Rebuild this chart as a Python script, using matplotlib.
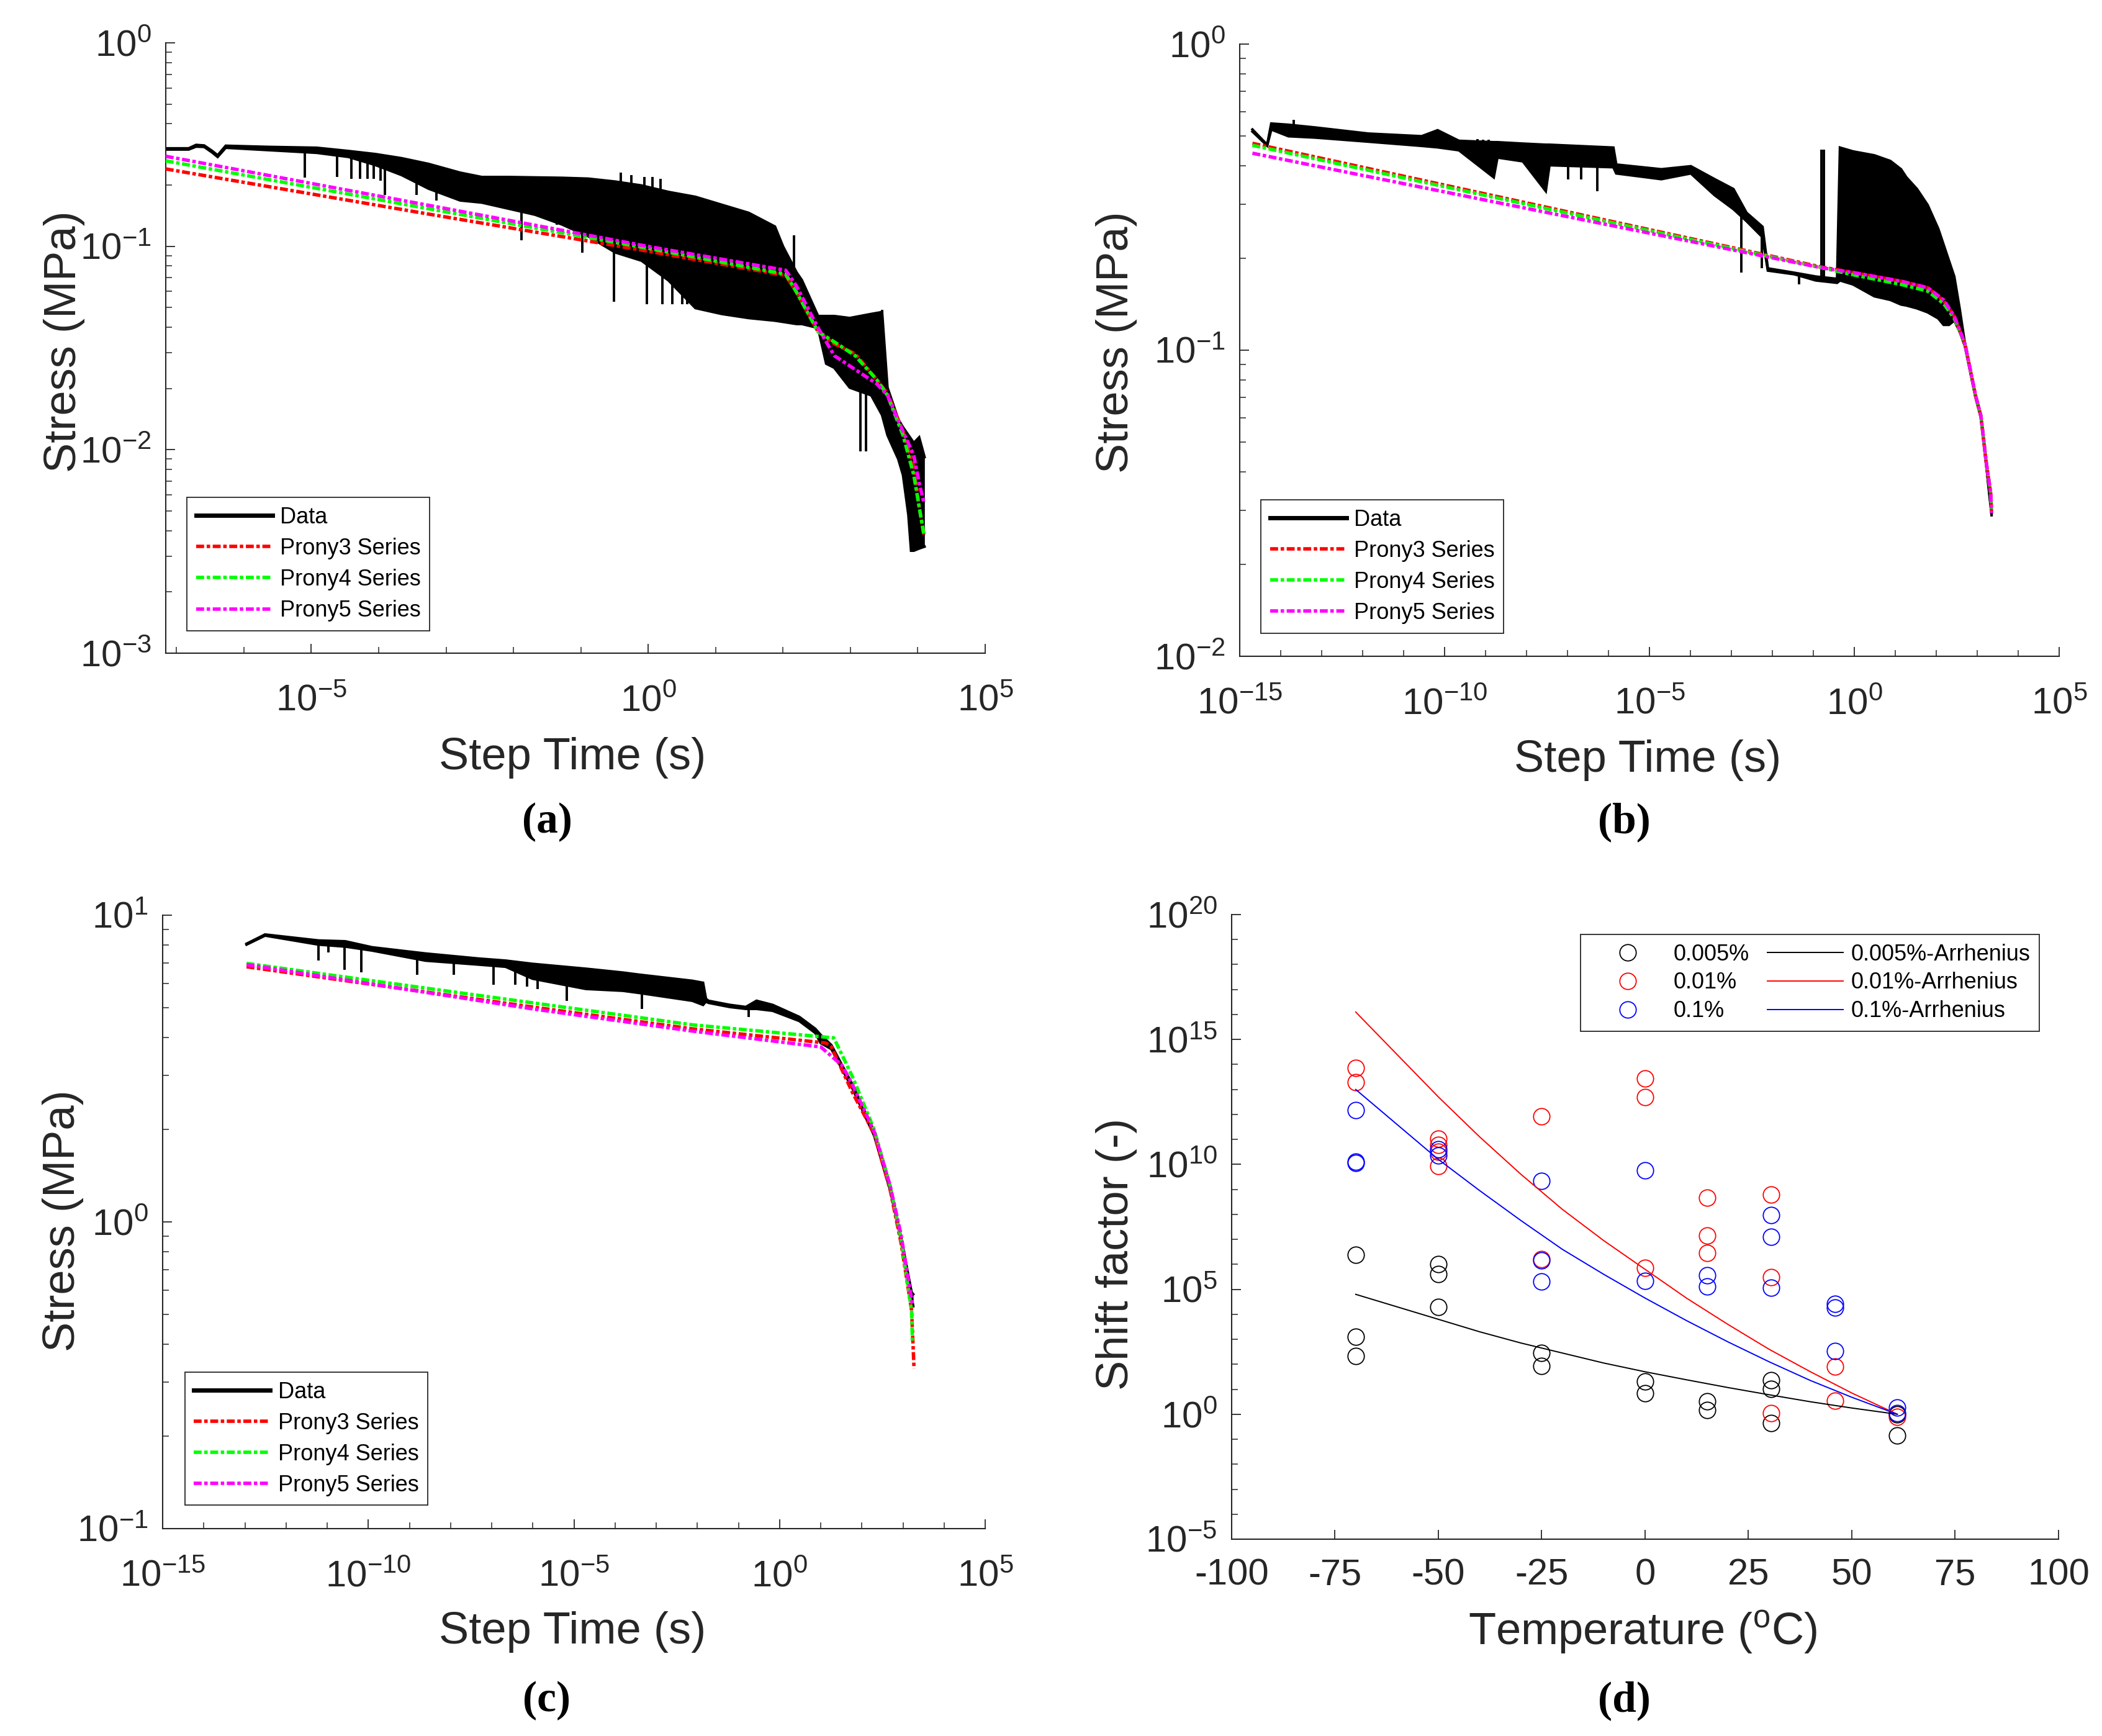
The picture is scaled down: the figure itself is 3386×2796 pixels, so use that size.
import numpy as np
import matplotlib
matplotlib.use('Agg')
import matplotlib.pyplot as plt
from matplotlib.ticker import LogLocator, NullFormatter, FixedLocator, LogFormatterSciNotation
from matplotlib.lines import Line2D

plt.rcParams['font.family'] = ['Liberation Sans', 'DejaVu Sans']
plt.rcParams['mathtext.fontset'] = 'custom'
plt.rcParams['mathtext.rm'] = 'Liberation Sans'
plt.rcParams['mathtext.it'] = 'Liberation Sans:italic'
plt.rcParams['mathtext.bf'] = 'Liberation Sans:bold'
plt.rcParams['mathtext.default'] = 'regular'
plt.rcParams['axes.unicode_minus'] = False

# ---------------- Panel (a) data: log10(step time [s]), stress [MPa] ----------------
a_band_logt = [-7.16, -6.82, -6.71, -6.59, -6.47, -6.39, -6.27, -5.64, -4.92, -4.45, -4.05, -3.66,
               -3.26, -2.79, -2.47, -2.07, -1.68, -1.28, -0.89, -0.49, -0.10, 0.30, 0.70, 1.09,
               1.49, 1.88, 2.00, 2.20, 2.28, 2.52, 2.64, 2.76, 2.99, 3.31, 3.47, 3.55, 3.63, 3.71,
               3.78, 3.86, 3.90, 3.94, 4.02, 4.10]
a_upper = [0.303, 0.303, 0.315, 0.313, 0.294, 0.280, 0.312, 0.308, 0.305, 0.294, 0.284, 0.271,
           0.254, 0.230, 0.219, 0.219, 0.218, 0.217, 0.215, 0.208, 0.199, 0.185, 0.175, 0.160,
           0.146, 0.125, 0.0998, 0.0745, 0.0681, 0.0454, 0.0454, 0.0454, 0.0444, 0.0465, 0.0475,
           0.0202, 0.0169, 0.0141, 0.0129, 0.0118, 0.0113, 0.0108, 0.0115, 0.0092]
a_lower = [0.299, 0.299, 0.309, 0.308, 0.289, 0.275, 0.305, 0.297, 0.288, 0.275, 0.251, 0.224,
           0.192, 0.168, 0.164, 0.153, 0.143, 0.128, 0.112, 0.0933, 0.085, 0.068, 0.0497, 0.0465,
           0.0444, 0.0431, 0.0425, 0.0415, 0.0415, 0.0397, 0.0265, 0.0253, 0.0202, 0.0185, 0.0148,
           0.0118, 0.0103, 0.0090, 0.00752, 0.00479, 0.00319, 0.00319, 0.00327, 0.00334]
a_spike_logt = [-5.10, -4.62, -4.41, -4.28, -4.17, -4.07, -3.97, -3.91, -3.44, -3.14, -1.88, -1.36,
                -1.24, -0.98, -0.51, -0.02, 0.21, 0.36, 0.50, 0.58, 3.15, 3.23, -0.41, -0.25,
                -0.06, 0.06, 0.18, 2.16, 3.47]
a_spike_end = [0.218, 0.219, 0.215, 0.215, 0.215, 0.215, 0.210, 0.179, 0.179, 0.168, 0.107, 0.128,
               0.128, 0.0933, 0.0532, 0.052, 0.052, 0.052, 0.052, 0.052, 0.00984, 0.00984, 0.230,
               0.224, 0.219, 0.219, 0.215, 0.113, 0.0486]
a_fit_logt = [-7.16, -3.26, 0.0, 2.04, 2.20, 2.52, 2.76, 3.07, 3.39, 3.55, 3.78, 3.94, 4.02, 4.09]
a_prony3 = [0.240, 0.144, 0.0946, 0.0719, 0.0595, 0.0380, 0.0332, 0.0296, 0.0221, 0.0189, 0.0123,
            0.00822, 0.00524, 0.00383]
a_prony4 = [0.263, 0.153, 0.0977, 0.0729, 0.0595, 0.0380, 0.0339, 0.0290, 0.0221, 0.0185, 0.0118,
            0.00752, 0.00524, 0.00383]
a_prony5 = [0.277, 0.159, 0.0998, 0.0762, 0.0637, 0.0397, 0.0290, 0.0248, 0.0211, 0.0185, 0.0123,
            0.0094, 0.00687, 0.00548]

# ---------------- Panel (b) data ----------------
b_band_logt = [-14.69, -14.33, -14.23, -13.81, -13.16, -11.86, -10.56, -10.17, -9.65, -8.80, -8.71,
               -8.09, -7.53, -7.44, -5.88, -5.81, -4.71, -3.99, -3.41, -2.95, -2.63, -2.24, -2.11,
               -1.46, -0.94, -0.42, -0.35, -0.03, 0.49, 0.88, 1.14, 1.27, 1.53, 1.79, 2.05, 2.18,
               2.31, 2.44, 2.57, 2.70, 2.96, 3.09, 3.22, 3.35]
b_upper = [0.526, 0.469, 0.550, 0.545, 0.534, 0.510, 0.500, 0.523, 0.483, 0.478, 0.478, 0.473,
           0.469, 0.469, 0.459, 0.404, 0.390, 0.399, 0.362, 0.336, 0.281, 0.253, 0.185, 0.179,
           0.174, 0.171, 0.459, 0.446, 0.433, 0.415, 0.390, 0.367, 0.336, 0.298, 0.249, 0.221,
           0.196, 0.174, 0.137, 0.105, 0.0709, 0.0611, 0.0427, 0.0294]
b_lower = [0.518, 0.466, 0.526, 0.500, 0.495, 0.480, 0.465, 0.460, 0.450, 0.367, 0.426, 0.414,
           0.331, 0.402, 0.396, 0.378, 0.362, 0.378, 0.321, 0.289, 0.264, 0.234, 0.182, 0.177,
           0.169, 0.166, 0.169, 0.164, 0.150, 0.146, 0.141, 0.140, 0.137, 0.133, 0.127, 0.121,
           0.121, 0.125, 0.115, 0.103, 0.0699, 0.0601, 0.0420, 0.0289]
b_spike_logt = [-2.76, -2.26, -1.35, -6.98, -6.66, -6.27, -0.81, -0.74, -0.31, -9.19, -9.06, -8.93,
                -13.68]
b_spike_end = [0.179, 0.185, 0.164, 0.362, 0.362, 0.331, 0.453, 0.453, 0.459, 0.490, 0.487, 0.487,
               0.566]
b_fit_logt = [-14.69, -0.81, 0.0, 1.14, 1.79, 2.18, 2.44, 2.70, 2.96, 3.09, 3.22, 3.33, 3.35]
b_prony3 = [0.474, 0.187, 0.179, 0.168, 0.160, 0.145, 0.129, 0.105, 0.071, 0.061, 0.043, 0.034, 0.0294]
b_prony4 = [0.467, 0.186, 0.176, 0.164, 0.156, 0.142, 0.127, 0.105, 0.071, 0.061, 0.043, 0.034, 0.0294]
b_prony5 = [0.440, 0.186, 0.179, 0.168, 0.160, 0.146, 0.129, 0.105, 0.071, 0.061, 0.043, 0.034, 0.0294]

# ---------------- Panel (c) data ----------------
c_band_logt = [-12.96, -12.51, -11.21, -10.56, -9.91, -8.61, -7.31, -6.66, -6.01, -4.71, -3.81,
               -3.42, -2.12, -1.86, -1.79, -1.73, -1.21, -0.82, -0.56, -0.17, 0.48, 0.87, 1.00,
               1.26, 1.78, 2.30, 2.69, 2.95, 3.21, 3.25]
c_upper = [8.07, 8.65, 8.27, 8.22, 7.86, 7.50, 7.22, 7.11, 6.94, 6.69, 6.50, 6.40, 6.11, 6.02, 5.34,
           5.26, 5.10, 5.02, 5.26, 5.10, 4.66, 4.26, 4.07, 3.77, 2.79, 1.97, 1.31, 0.90, 0.590, 0.581]
c_lower = [8.02, 8.58, 8.02, 7.90, 7.67, 7.11, 6.90, 6.79, 6.21, 5.75, 5.67, 5.58, 5.26, 5.10, 5.23,
           5.18, 5.02, 4.95, 4.95, 4.88, 4.52, 4.13, 3.83, 3.66, 2.71, 1.91, 1.27, 0.873, 0.572, 0.531]
c_spike_logt = [-11.21, -10.97, -10.58, -10.17, -8.81, -7.92, -6.95, -6.43, -6.14, -5.88, -5.17,
                -3.35, -0.75]
c_spike_end = [7.11, 7.55, 6.65, 6.50, 6.40, 6.40, 5.93, 5.93, 5.84, 5.75, 5.26, 4.95, 4.66]
c_prony3_logt = [-12.96, -6.01, -2.12, 1.13, 1.26, 1.78, 2.30, 2.69, 2.95, 3.21, 3.27]
c_prony3 = [6.79, 5.02, 4.26, 3.83, 3.72, 2.63, 1.94, 1.27, 0.86, 0.515, 0.332]
c_prony4_logt = [-12.96, -6.01, -2.12, 1.32, 1.78, 2.30, 2.69, 2.95, 3.21, 3.23]
c_prony4 = [6.96, 5.18, 4.39, 3.98, 2.96, 2.00, 1.31, 0.887, 0.515, 0.41]
c_prony5_logt = [-12.96, -6.01, -2.12, 1.00, 1.52, 1.78, 2.30, 2.69, 2.95, 3.23]
c_prony5 = [6.90, 4.95, 4.19, 3.72, 3.24, 2.79, 1.97, 1.31, 0.914, 0.539]

# ---------------- Panel (d) data: temperature [C], log10(shift factor) ----------------
d_T_005 = [-70, -70, -70, -50, -50, -50, -25, -25, 0, 0, 15, 15, 30.5, 30.5, 30.5, 61, 61]
d_log_005 = [6.37, 3.10, 2.32, 6.00, 5.61, 4.29, 2.45, 1.94, 1.30, 0.83, 0.52, 0.16, 1.35, 1.02,
             -0.36, 0.0, -0.84]
d_T_001 = [-70, -70, -50, -50, -50, -50, -25, -25, 0, 0, 0, 15, 15, 15, 30.5, 30.5, 30.5, 46, 46, 61]
d_log_001 = [13.87, 13.29, 11.04, 10.78, 10.50, 9.94, 11.93, 6.21, 13.45, 12.69, 5.85, 8.67, 7.15,
             6.45, 8.80, 5.48, 0.05, 1.91, 0.53, -0.11]
d_T_01 = [-70, -70, -70, -50, -50, -25, -25, -25, 0, 0, 15, 15, 30.5, 30.5, 30.5, 46, 46, 46, 61, 61]
d_log_01 = [12.16, 10.10, 10.05, 10.60, 10.35, 9.34, 6.16, 5.32, 9.76, 5.35, 5.56, 5.11, 7.97, 7.10,
            5.07, 4.42, 4.26, 2.53, 0.26, 0.05]
d_T_fit = [-70, -60, -50, -40, -30, -20, -10, 0, 10, 20, 30, 40, 50, 61]
d_fit_005 = [4.80, 4.30, 3.80, 3.30, 2.85, 2.45, 2.05, 1.70, 1.38, 1.07, 0.78, 0.50, 0.25, 0.0]
d_fit_001 = [16.1, 14.4, 12.7, 11.1, 9.6, 8.2, 6.95, 5.8, 4.65, 3.6, 2.6, 1.7, 0.85, 0.0]
d_fit_01 = [13.0, 11.6, 10.2, 8.95, 7.75, 6.6, 5.6, 4.65, 3.75, 2.9, 2.1, 1.35, 0.68, 0.0]

prony_labels = ['Data', 'Prony3 Series', 'Prony4 Series', 'Prony5 Series']
d_labels = ['0.005%', '0.01%', '0.1%', '0.005%-Arrhenius', '0.01%-Arrhenius', '0.1%-Arrhenius']

# ---------------- styling ----------------
W, H = 3387, 2796
AXC = '#262626'
TICK_FS = 43
LABEL_FS = 52
LEG_FS = 26
DASHDOT = (0, (2.3, 0.75, 1.0, 0.75))
FIT_LW = 4.0

fig = plt.figure(figsize=(W / 100, H / 100), dpi=100)
fig.patch.set_facecolor('white')


def px_axes(left, top, right, bottom):
    return fig.add_axes([left / W, 1 - bottom / H, (right - left) / W, (bottom - top) / H])


def style(ax, xpad=36, ypad=17):
    for s in ['top', 'right']:
        ax.spines[s].set_visible(False)
    for s in ['left', 'bottom']:
        ax.spines[s].set_color(AXC)
        ax.spines[s].set_linewidth(1.5)
    ax.tick_params(which='both', direction='in', colors=AXC, labelsize=TICK_FS)
    ax.tick_params(which='major', length=11, width=1.3)
    ax.tick_params(which='minor', length=7, width=1.1)
    ax.tick_params(axis='x', which='both', pad=xpad)
    ax.tick_params(axis='y', which='both', pad=ypad)
    ax.set_facecolor('white')


def labels(ax, xl, yl, xpos, ypos):
    ax.set_xlabel(xl, fontsize=LABEL_FS, color=AXC)
    ax.set_ylabel(yl, fontsize=LABEL_FS, color=AXC)
    ax.xaxis.set_label_coords(*xpos)
    ax.yaxis.set_label_coords(*ypos)
    ax.xaxis.label.set_va('center')
    ax.xaxis.label.set_ha('center')
    ax.yaxis.label.set_va('center')
    ax.yaxis.label.set_ha('center')


def draw_data(ax, logt, upper, lower, sp_logt, sp_end):
    lt = np.asarray(logt)
    t = 10.0 ** lt
    up = np.asarray(upper)
    lo = np.asarray(lower)
    ax.fill_between(t, lo, up, color='k', lw=0, zorder=2)
    ax.plot(t, up, color='k', lw=3.0, zorder=2, solid_joinstyle='miter')
    ax.plot(t, lo, color='k', lw=3.0, zorder=2, solid_joinstyle='miter')
    sl = np.asarray(sp_logt)
    base = np.sqrt(np.interp(sl, lt, up) * np.interp(sl, lt, lo))
    ax.vlines(10.0 ** sl, np.asarray(sp_end), base, color='k', lw=2.8, zorder=2)


def draw_fits(ax, l3, v3, l4, v4, l5, v5):
    r, = ax.plot(10.0 ** np.asarray(l3), v3, color=(1, 0, 0), lw=FIT_LW, ls=DASHDOT, zorder=3)
    g, = ax.plot(10.0 ** np.asarray(l4), v4, color=(0, 1, 0), lw=FIT_LW, ls=DASHDOT, zorder=4)
    m, = ax.plot(10.0 ** np.asarray(l5), v5, color=(1, 0, 1), lw=FIT_LW, ls=DASHDOT, zorder=5)
    return r, g, m


def prony_legend(ax, fits, anchor):
    handles = [Line2D([], [], color='k', lw=5.0)] + list(fits)
    leg = ax.legend(handles, prony_labels, loc='lower left', bbox_to_anchor=anchor,
                    fontsize=LEG_FS, handlelength=3.4, handletextpad=0.35, borderpad=0.4,
                    labelspacing=0.42, fancybox=False, framealpha=1, edgecolor=AXC,
                    borderaxespad=0)
    leg.get_frame().set_linewidth(1.3)
    for tx in leg.get_texts():
        tx.set_color('black')


def log_time_axis(ax, lo_exp, hi_exp, majors, ylo, yhi):
    ax.set_xscale('log')
    ax.set_yscale('log')
    ax.set_xlim(10.0 ** lo_exp, 10.0 ** hi_exp)
    ax.set_ylim(ylo, yhi)
    ax.xaxis.set_major_locator(FixedLocator([10.0 ** e for e in majors]))
    minors = [10.0 ** e for e in range(int(np.ceil(lo_exp)), int(hi_exp) + 1) if e not in majors]
    ax.xaxis.set_minor_locator(FixedLocator(minors))
    ax.xaxis.set_major_formatter(LogFormatterSciNotation())
    ax.xaxis.set_minor_formatter(NullFormatter())
    ax.yaxis.set_major_locator(LogLocator(base=10))
    ax.yaxis.set_minor_locator(LogLocator(base=10, subs=np.arange(2, 10)))
    ax.yaxis.set_major_formatter(LogFormatterSciNotation())
    ax.yaxis.set_minor_formatter(NullFormatter())


# ---------------- (a) ----------------
axA = px_axes(267, 69, 1587, 1052)
style(axA)
draw_data(axA, a_band_logt, a_upper, a_lower, a_spike_logt, a_spike_end)
fitsA = draw_fits(axA, a_fit_logt, a_prony3, a_fit_logt, a_prony4, a_fit_logt, a_prony5)
log_time_axis(axA, -7.16, 5, [-5, 0, 5], 1e-3, 1e0)
labels(axA, 'Step Time (s)', 'Stress (MPa)', (0.496, -0.171), (-0.1235, 0.510))
prony_legend(axA, fitsA, (0.026, 0.037))

# ---------------- (b) ----------------
axB = px_axes(1997, 71, 3317, 1057)
style(axB)
draw_data(axB, b_band_logt, b_upper, b_lower, b_spike_logt, b_spike_end)
fitsB = draw_fits(axB, b_fit_logt, b_prony3, b_fit_logt, b_prony4, b_fit_logt, b_prony5)
log_time_axis(axB, -15, 5, [-15, -10, -5, 0, 5], 1e-2, 1e0)
labels(axB, 'Step Time (s)', 'Stress (MPa)', (0.498, -0.170), (-0.150, 0.513))
prony_legend(axB, fitsB, (0.026, 0.038))

# ---------------- (c) ----------------
axC = px_axes(262, 1474, 1587, 2462)
style(axC)
draw_data(axC, c_band_logt, c_upper, c_lower, c_spike_logt, c_spike_end)
fitsC = draw_fits(axC, c_prony3_logt, c_prony3, c_prony4_logt, c_prony4, c_prony5_logt, c_prony5)
log_time_axis(axC, -15, 5, [-15, -10, -5, 0, 5], 1e-1, 1e1)
labels(axC, 'Step Time (s)', 'Stress (MPa)', (0.498, -0.169), (-0.121, 0.502))
prony_legend(axC, fitsC, (0.027, 0.038))

# ---------------- (d) ----------------
axD = px_axes(1984, 1473, 3316, 2479)
style(axD, xpad=22, ypad=17)
axD.set_yscale('log')
MS = 19
MEW = 1.3
pk, = axD.plot(d_T_005, 10.0 ** np.asarray(d_log_005), 'o', ls='none', mfc='none', mec='k', ms=MS, mew=MEW)
pr, = axD.plot(d_T_001, 10.0 ** np.asarray(d_log_001), 'o', ls='none', mfc='none', mec=(1, 0, 0), ms=MS, mew=MEW)
pb, = axD.plot(d_T_01, 10.0 ** np.asarray(d_log_01), 'o', ls='none', mfc='none', mec=(0, 0, 1), ms=MS, mew=MEW)
lk, = axD.plot(d_T_fit, 10.0 ** np.asarray(d_fit_005), color='k', lw=1.4)
lr, = axD.plot(d_T_fit, 10.0 ** np.asarray(d_fit_001), color=(1, 0, 0), lw=1.4)
lb, = axD.plot(d_T_fit, 10.0 ** np.asarray(d_fit_01), color=(0, 0, 1), lw=1.4)
axD.set_xlim(-100, 100)
axD.set_ylim(1e-5, 1e20)
axD.set_xticks(np.arange(-100, 101, 25))
axD.yaxis.set_major_locator(FixedLocator([10.0 ** e for e in range(-5, 21, 5)]))
axD.yaxis.set_minor_locator(FixedLocator([10.0 ** e for e in range(-5, 21) if e % 5 != 0]))
axD.yaxis.set_major_formatter(LogFormatterSciNotation())
axD.yaxis.set_minor_formatter(NullFormatter())
labels(axD, 'Temperature ($\\mathregular{^{o}}$C)', 'Shift factor (-)', (0.497, -0.149), (-0.139, 0.456))
legD = axD.legend([pk, pr, pb, lk, lr, lb], d_labels, ncol=2, loc='upper right',
                  bbox_to_anchor=(0.977, 0.968), fontsize=LEG_FS, handlelength=3.4,
                  handletextpad=0.35, columnspacing=0.8, borderpad=0.4, labelspacing=0.3,
                  fancybox=False, framealpha=1, edgecolor=AXC, borderaxespad=0, numpoints=1)
legD.get_frame().set_linewidth(1.3)

# ---------------- panel letters ----------------
for (px, py, s) in [(881, 1324, '(a)'), (2616, 1324, '(b)'), (881, 2739, '(c)'), (2616, 2739, '(d)')]:
    fig.text(px / W, 1 - py / H, s, ha='center', va='center', fontsize=50,
             family=['Liberation Serif', 'DejaVu Serif'], fontweight='bold', color='black')

fig.savefig('out.png', dpi=100, facecolor='white')
